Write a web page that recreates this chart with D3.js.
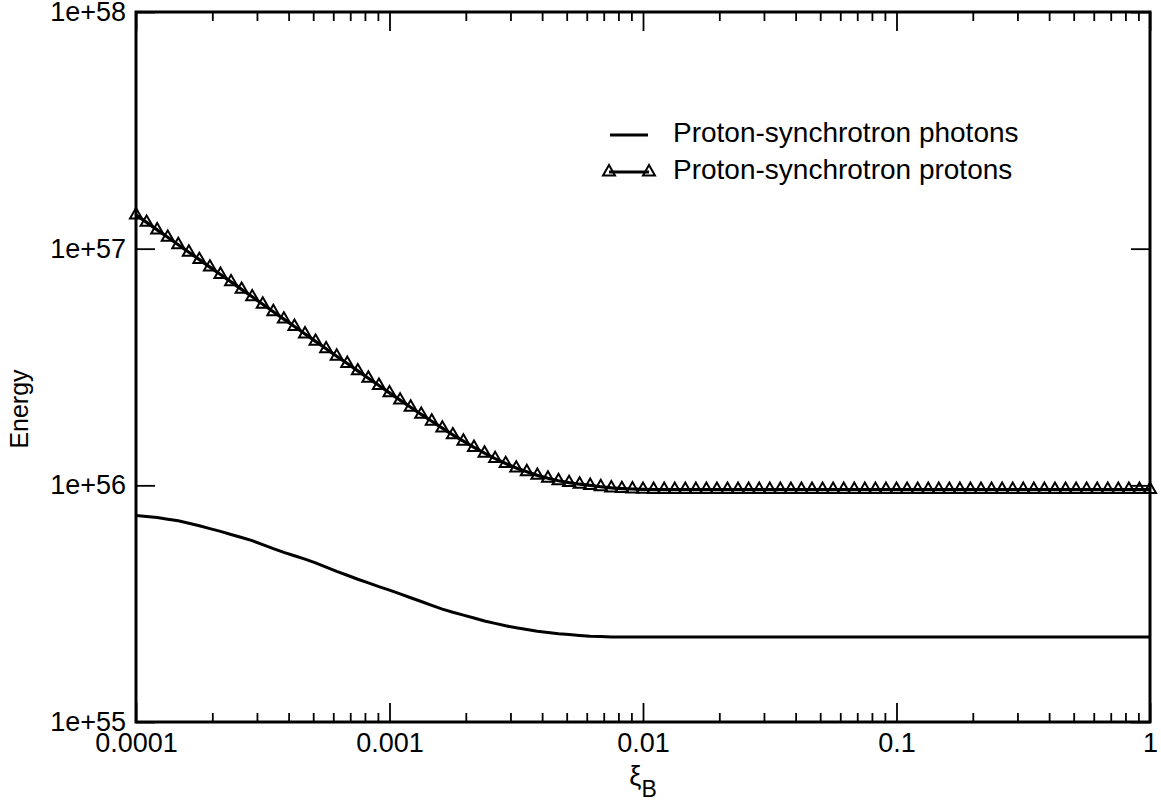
<!DOCTYPE html>
<html>

<head>
    <meta charset="utf-8">
    <style>
        body {
            margin: 0;
            background: #fff;
        }

        svg {
            display: block;
            font-family: 'Liberation Sans', Arial, sans-serif;
        }

        svg .axis .domain {
            display: none;
        }

        svg .axis .tick line {
            stroke: #000;
            stroke-width: 1.8px;
        }

        svg .axis .tick text {
            font-size: 27px;
            fill: #000;
        }
    </style>
</head>

<body>
    <svg width="1161" height="805"></svg>
</body>

<script src="https://d3js.org/d3.v7.min.js"></script>

<script>
    // xi_B sampling (same grid for both curves)
    const xiB = [
        1.000e-4, 1.101e-4, 1.212e-4, 1.334e-4, 1.468e-4, 1.616e-4, 1.778e-4, 1.957e-4, 2.154e-4, 2.371e-4, 2.610e-4, 2.873e-4,
        3.162e-4, 3.481e-4, 3.831e-4, 4.217e-4, 4.642e-4, 5.109e-4, 5.623e-4, 6.190e-4, 6.813e-4, 7.499e-4, 8.254e-4, 9.085e-4,
        1.000e-3, 1.101e-3, 1.212e-3, 1.334e-3, 1.468e-3, 1.616e-3, 1.778e-3, 1.957e-3, 2.154e-3, 2.371e-3, 2.610e-3, 2.873e-3,
        3.162e-3, 3.481e-3, 3.831e-3, 4.217e-3, 4.642e-3, 5.109e-3, 5.623e-3, 6.190e-3, 6.813e-3, 7.499e-3, 8.254e-3, 9.085e-3,
        1.000e-2, 1.101e-2, 1.212e-2, 1.334e-2, 1.468e-2, 1.616e-2, 1.778e-2, 1.957e-2, 2.154e-2, 2.371e-2, 2.610e-2, 2.873e-2,
        3.162e-2, 3.481e-2, 3.831e-2, 4.217e-2, 4.642e-2, 5.109e-2, 5.623e-2, 6.190e-2, 6.813e-2, 7.499e-2, 8.254e-2, 9.085e-2,
        1.000e-1, 1.101e-1, 1.212e-1, 1.334e-1, 1.468e-1, 1.616e-1, 1.778e-1, 1.957e-1, 2.154e-1, 2.371e-1, 2.610e-1, 2.873e-1,
        3.162e-1, 3.481e-1, 3.831e-1, 4.217e-1, 4.642e-1, 5.109e-1, 5.623e-1, 6.190e-1, 6.813e-1, 7.499e-1, 8.254e-1, 9.085e-1,
        1
    ];

    // Proton-synchrotron photons
    const photonEnergy = [
        7.46e55, 7.39e55, 7.31e55, 7.19e55, 7.08e55, 6.92e55, 6.75e55, 6.56e55, 6.39e55, 6.20e55, 6.02e55, 5.84e55,
        5.62e55, 5.40e55, 5.21e55, 5.04e55, 4.88e55, 4.70e55, 4.51e55, 4.33e55, 4.17e55, 4.01e55, 3.87e55, 3.73e55,
        3.61e55, 3.48e55, 3.35e55, 3.23e55, 3.11e55, 3.00e55, 2.91e55, 2.83e55, 2.75e55, 2.67e55, 2.61e55, 2.55e55,
        2.50e55, 2.46e55, 2.42e55, 2.39e55, 2.36e55, 2.34e55, 2.32e55, 2.305e55, 2.296e55, 2.289e55, 2.287e55, 2.287e55,
        2.287e55, 2.287e55, 2.287e55, 2.287e55, 2.287e55, 2.287e55, 2.287e55, 2.287e55, 2.287e55, 2.287e55, 2.287e55, 2.287e55,
        2.287e55, 2.287e55, 2.287e55, 2.287e55, 2.287e55, 2.287e55, 2.287e55, 2.287e55, 2.287e55, 2.287e55, 2.287e55, 2.287e55,
        2.287e55, 2.287e55, 2.287e55, 2.287e55, 2.287e55, 2.287e55, 2.287e55, 2.287e55, 2.287e55, 2.287e55, 2.287e55, 2.287e55,
        2.287e55, 2.287e55, 2.287e55, 2.287e55, 2.287e55, 2.287e55, 2.287e55, 2.287e55, 2.287e55, 2.287e55, 2.287e55, 2.287e55,
        2.287e55
    ];

    // Proton-synchrotron protons
    const protonEnergy = [
        13.88e56, 12.91e56, 12.00e56, 11.17e56, 10.39e56, 9.663e56, 8.992e56, 8.358e56, 7.780e56, 7.237e56, 6.729e56, 6.260e56,
        5.826e56, 5.416e56, 5.040e56, 4.690e56, 4.360e56, 4.058e56, 3.775e56, 3.510e56, 3.272e56, 3.044e56, 2.834e56, 2.641e56,
        2.458e56, 2.292e56, 2.138e56, 1.994e56, 1.865e56, 1.745e56, 1.635e56, 1.536e56, 1.446e56, 1.367e56, 1.297e56, 1.236e56,
        1.183e56, 1.142e56, 1.102e56, 1.071e56, 1.046e56, 1.027e56, 1.011e56, 0.999e56, 0.986e56, 0.975e56, 0.969e56, 0.965e56,
        0.962e56, 0.960e56, 0.960e56, 0.960e56, 0.960e56, 0.960e56, 0.960e56, 0.960e56, 0.960e56, 0.960e56, 0.960e56, 0.960e56,
        0.960e56, 0.960e56, 0.960e56, 0.960e56, 0.960e56, 0.960e56, 0.960e56, 0.960e56, 0.960e56, 0.960e56, 0.960e56, 0.960e56,
        0.960e56, 0.960e56, 0.960e56, 0.960e56, 0.960e56, 0.960e56, 0.960e56, 0.960e56, 0.960e56, 0.960e56, 0.960e56, 0.960e56,
        0.960e56, 0.960e56, 0.960e56, 0.960e56, 0.960e56, 0.960e56, 0.960e56, 0.960e56, 0.960e56, 0.960e56, 0.960e56, 0.960e56,
        0.960e56
    ];

    const xTickValues = [1e-4, 1e-3, 1e-2, 1e-1, 1];
    const xTickLabels = ["0.0001", "0.001", "0.01", "0.1", "1"];
    const yTickValues = [1e55, 1e56, 1e57, 1e58];
    const yTickLabels = ["1e+55", "1e+56", "1e+57", "1e+58"];
    const legendLabels = ["Proton-synchrotron photons", "Proton-synchrotron protons"];

    let width = 1161;
    let height = 805;
    let margin = { top: 12, right: 11, bottom: 83, left: 136 };
    let svg = d3.select("svg");

    let x = d3.scaleLog()
        .domain([1e-4, 1])
        .range([margin.left, width - margin.right]);

    let y = d3.scaleLog()
        .domain([1e55, 1e58])
        .range([height - margin.bottom, margin.top]);

    // minor ticks: the log scale's own 1..9 ticks, minus the decades
    let xMinor = x.ticks().filter(d => Math.abs(Math.log10(d) - Math.round(Math.log10(d))) > 1e-6);

    let xFmt = d => xTickLabels[xTickValues.indexOf(d)];
    let yFmt = d => yTickLabels[yTickValues.indexOf(d)];

    // bottom axis, ticks pointing inward
    svg.append("g")
        .attr("class", "x axis")
        .attr("transform", `translate(0,${y.range()[0]})`)
        .call(d3.axisBottom(x).tickValues(xTickValues).tickSize(-19).tickPadding(11).tickFormat(xFmt));

    svg.append("g")
        .attr("class", "x axis minor")
        .attr("transform", `translate(0,${y.range()[0]})`)
        .call(d3.axisBottom(x).tickValues(xMinor).tickSize(-9).tickFormat(""));

    // top axis (ticks only)
    svg.append("g")
        .attr("class", "x axis")
        .attr("transform", `translate(0,${margin.top})`)
        .call(d3.axisTop(x).tickValues(xTickValues).tickSize(-19).tickFormat(""));

    svg.append("g")
        .attr("class", "x axis minor")
        .attr("transform", `translate(0,${margin.top})`)
        .call(d3.axisTop(x).tickValues(xMinor).tickSize(-9).tickFormat(""));

    // left + right axes
    svg.append("g")
        .attr("class", "y axis")
        .attr("transform", `translate(${margin.left},0)`)
        .call(d3.axisLeft(y).tickValues(yTickValues).tickSize(-19).tickPadding(10).tickFormat(yFmt));

    svg.append("g")
        .attr("class", "y axis")
        .attr("transform", `translate(${width - margin.right},0)`)
        .call(d3.axisRight(y).tickValues(yTickValues).tickSize(-19).tickFormat(""));

    // frame
    svg.append("rect")
        .attr("x", margin.left)
        .attr("y", margin.top)
        .attr("width", width - margin.right - margin.left)
        .attr("height", height - margin.bottom - margin.top)
        .attr("fill", "none")
        .attr("stroke", "#000")
        .attr("stroke-width", 3);

    let photons = xiB.map((d, i) => ({ x: d, y: photonEnergy[i] }));
    let protons = xiB.map((d, i) => ({ x: d, y: protonEnergy[i] }));

    let line = d3.line()
        .x(d => x(d.x))
        .y(d => y(d.y));

    svg.append("path")
        .datum(photons)
        .attr("d", line)
        .attr("fill", "none")
        .attr("stroke", "#000")
        .attr("stroke-width", 3);

    svg.append("path")
        .datum(protons)
        .attr("d", line)
        .attr("fill", "none")
        .attr("stroke", "#000")
        .attr("stroke-width", 3.2);

    let tri = d3.symbol(d3.symbolTriangle, 62);

    svg.append("g")
        .selectAll("path")
        .data(protons)
        .join("path")
        .attr("transform", d => `translate(${x(d.x)},${y(d.y)})`)
        .attr("d", tri)
        .attr("fill", "none")
        .attr("stroke", "#000")
        .attr("stroke-width", 2);

    // legend
    let legend = svg.append("g").attr("class", "legend");

    legend.append("line")
        .attr("x1", 610).attr("x2", 648)
        .attr("y1", 135).attr("y2", 135)
        .attr("stroke", "#000").attr("stroke-width", 3);

    legend.append("line")
        .attr("x1", 609).attr("x2", 649)
        .attr("y1", 172).attr("y2", 172)
        .attr("stroke", "#000").attr("stroke-width", 3);

    legend.selectAll(".lsym")
        .data([609, 649])
        .join("path")
        .attr("class", "lsym")
        .attr("transform", d => `translate(${d},172)`)
        .attr("d", tri)
        .attr("fill", "none")
        .attr("stroke", "#000")
        .attr("stroke-width", 2);

    legend.selectAll("text")
        .data(legendLabels)
        .join("text")
        .attr("x", 673)
        .attr("y", (d, i) => 142 + i * 36.5)
        .style("font-size", "28px")
        .text(d => d);

    // axis titles
    svg.append("text")
        .attr("transform", "translate(28,409) rotate(-90)")
        .attr("text-anchor", "middle")
        .style("font-size", "25px")
        .text("Energy");

    let xt = svg.append("text")
        .attr("x", 643)
        .attr("y", 785)
        .attr("text-anchor", "middle")
        .style("font-size", "27px");
    xt.append("tspan").text("ξ");
    xt.append("tspan").attr("dy", 12).style("font-size", "23px").text("B");

</script>

</html>
